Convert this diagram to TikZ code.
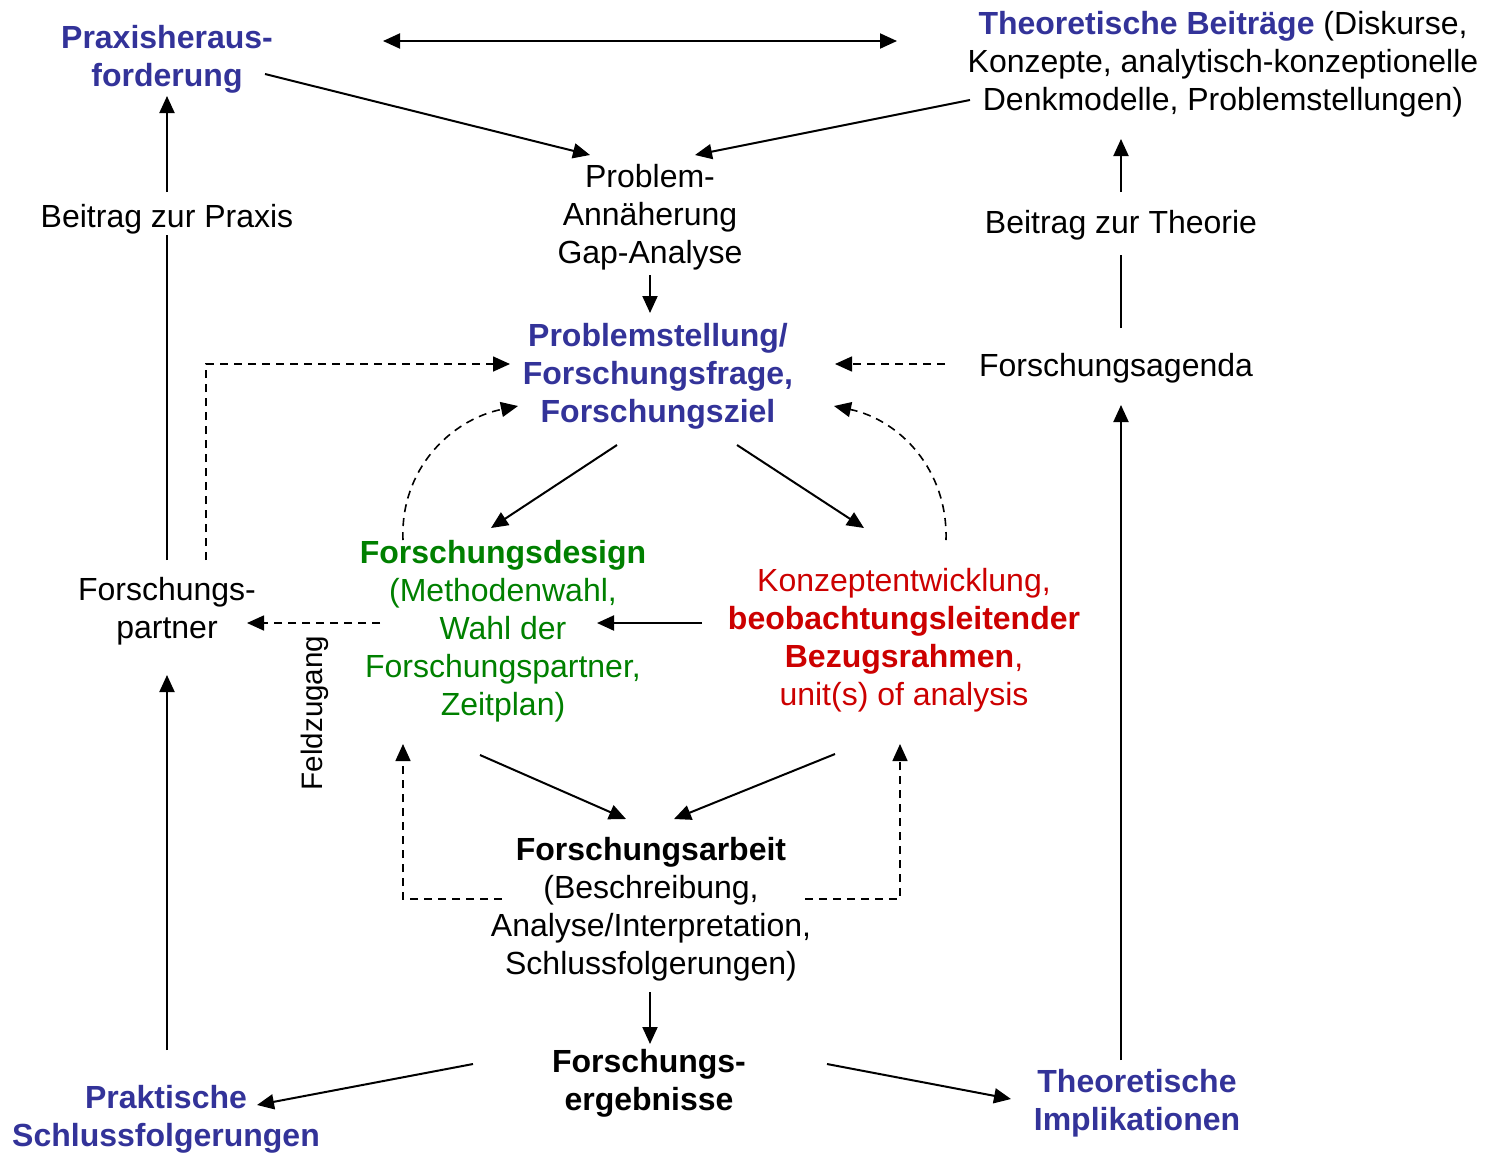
\documentclass[tikz,border=0pt]{standalone}
\usepackage{fontspec}
\setmainfont{Liberation Sans}
\usetikzlibrary{arrows.meta}
\definecolor{pblue}{RGB}{51,51,153}
\definecolor{pgreen}{RGB}{0,128,0}
\definecolor{pred}{RGB}{204,0,0}
\tikzset{
  txt/.style={align=center,inner sep=0pt,font=\fontsize{16pt}{19pt}\selectfont},
  arr/.style={line width=1pt,-{Triangle[length=8.5pt,width=7.5pt]}},
  dbl/.style={line width=1pt,{Triangle[length=8.5pt,width=7.5pt]}-{Triangle[length=8.5pt,width=7.5pt]}},
  ln/.style={line width=1pt},
  darr/.style={line width=0.8pt,dash pattern=on 4pt off 3pt,-{Triangle[length=8.5pt,width=7.5pt]}},
  dln/.style={line width=0.8pt,dash pattern=on 4pt off 3pt}
}
\begin{document}
\begin{tikzpicture}[x=0.5pt,y=-0.5pt]
\useasboundingbox (0,0) rectangle (1495,1153);
% nodes
\node[txt,text=pblue,font=\fontsize{16pt}{19pt}\selectfont\bfseries] (ph) at (167,59) {Praxisheraus-\\forderung};
\node[txt] (tb) at (1223,64) {\textcolor{pblue}{\textbf{Theoretische Beiträge}} (Diskurse,\\Konzepte, analytisch-konzeptionelle\\Denkmodelle, Problemstellungen)};
\node[txt] (pa) at (650,217) {Problem-\\Annäherung\\Gap-Analyse};
\node[txt,text=pblue,font=\fontsize{16pt}{19pt}\selectfont\bfseries] (pf) at (658,376) {Problemstellung/\\Forschungsfrage,\\Forschungsziel};
\node[txt] (bp) at (167,219) {Beitrag zur Praxis};
\node[txt] (bt) at (1121,225) {Beitrag zur Theorie};
\node[txt] (fa) at (1116,368) {Forschungsagenda};
\node[txt] (fp) at (167,611) {Forschungs-\\partner};
\node[txt,text=pgreen] (fd) at (503,631) {\textbf{Forschungsdesign}\\(Methodenwahl,\\Wahl der\\Forschungspartner,\\Zeitplan)};
\node[txt,text=pred] (ke) at (904,640) {Konzeptentwicklung,\\\textbf{beobachtungsleitender}\\\textbf{Bezugsrahmen},\\unit(s) of analysis};
\node[txt,rotate=90,font=\fontsize{14.8pt}{17pt}\selectfont] (fz) at (315,713) {Feldzugang};
\node[txt] (fw) at (651,909) {\textbf{Forschungsarbeit}\\(Beschreibung,\\Analyse/Interpretation,\\Schlussfolgerungen)};
\node[txt,font=\fontsize{16pt}{19pt}\selectfont\bfseries] (fe) at (649,1083) {Forschungs-\\ergebnisse};
\node[txt,text=pblue,font=\fontsize{16pt}{19pt}\selectfont\bfseries] (ps) at (166,1119) {Praktische\\Schlussfolgerungen};
\node[txt,text=pblue,font=\fontsize{16pt}{19pt}\selectfont\bfseries] (ti) at (1137,1103) {Theoretische\\Implikationen};
% coordinates
\coordinate (d1) at (383,41); \coordinate (d2) at (897,41);
\coordinate (a1) at (265,74); \coordinate (a2) at (590,155);
\coordinate (b1) at (970,100); \coordinate (b2) at (695,155);
\coordinate (c1) at (650,275); \coordinate (c2) at (650,313);
\coordinate (e1) at (945,364); \coordinate (e2) at (835,364);
\coordinate (t1) at (1121,328); \coordinate (t2) at (1121,255);
\coordinate (t3) at (1121,192); \coordinate (t4) at (1121,139);
\coordinate (t5) at (1121,1060); \coordinate (t6) at (1121,405);
\coordinate (p1) at (167,560); \coordinate (p2) at (167,235);
\coordinate (p3) at (167,192); \coordinate (p4) at (167,96);
\coordinate (p5) at (167,1050); \coordinate (p6) at (167,675);
\coordinate (q1) at (206,560); \coordinate (q2) at (206,364); \coordinate (q3) at (510,364);
\coordinate (f1) at (380,623); \coordinate (f2) at (247,623);
\coordinate (k1) at (702,623); \coordinate (k2) at (597,623);
\coordinate (g1) at (617,445); \coordinate (g2) at (491,528);
\coordinate (h1) at (737,445); \coordinate (h2) at (864,528);
\coordinate (i1) at (403,540); \coordinate (i2) at (518,406);
\coordinate (j1) at (946,540); \coordinate (j2) at (834,406);
\coordinate (m1) at (480,755); \coordinate (m2) at (626,819);
\coordinate (n1) at (835,754); \coordinate (n2) at (674,819);
\coordinate (r1) at (502,899); \coordinate (r2) at (403,899); \coordinate (r3) at (403,744);
\coordinate (s1) at (805,899); \coordinate (s2) at (900,899); \coordinate (s3) at (900,744);
\coordinate (u1) at (650,992); \coordinate (u2) at (650,1044);
\coordinate (v1) at (473,1064); \coordinate (v2) at (257,1105);
\coordinate (w1) at (827,1064); \coordinate (w2) at (1011,1099);
% connectors
\draw[dbl] (d1) -- (d2);
\draw[arr] (a1) -- (a2);
\draw[arr] (b1) -- (b2);
\draw[arr] (c1) -- (c2);
\draw[darr] (e1) -- (e2);
\draw[ln] (t1) -- (t2);
\draw[arr] (t3) -- (t4);
\draw[arr] (t5) -- (t6);
\draw[ln] (p1) -- (p2);
\draw[arr] (p3) -- (p4);
\draw[arr] (p5) -- (p6);
\draw[darr] (q1) -- (q2) -- (q3);
\draw[darr] (f1) -- (f2);
\draw[arr] (k1) -- (k2);
\draw[arr] (g1) -- (g2);
\draw[arr] (h1) -- (h2);
\draw[darr] (i1) .. controls (400,470) and (450,420) .. (i2);
\draw[darr] (j1) .. controls (948,470) and (900,420) .. (j2);
\draw[arr] (m1) -- (m2);
\draw[arr] (n1) -- (n2);
\draw[darr] (r1) -- (r2) -- (r3);
\draw[darr] (s1) -- (s2) -- (s3);
\draw[arr] (u1) -- (u2);
\draw[arr] (v1) -- (v2);
\draw[arr] (w1) -- (w2);
\end{tikzpicture}
\end{document}
